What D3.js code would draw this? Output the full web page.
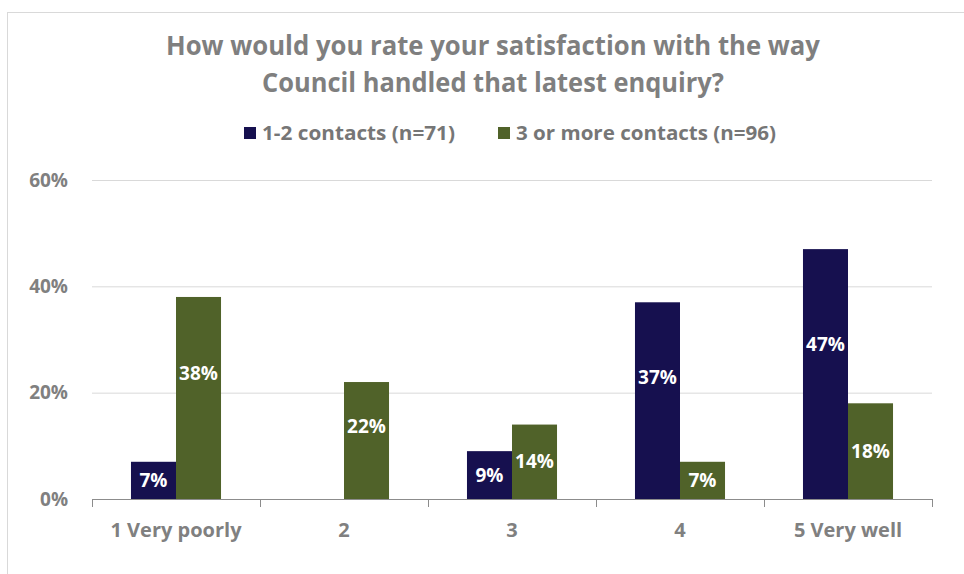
<!DOCTYPE html>
<html>
<head>
<meta charset="utf-8">
<script src="https://cdn.jsdelivr.net/npm/d3@7/dist/d3.min.js"></script>
<style>
  html, body { margin: 0; padding: 0; background: #fff; }
  svg { display: block; font-family: "Open Sans", "Noto Sans", sans-serif; }
</style>
</head>
<body>
<svg id="chart" width="964" height="574"></svg>
<script>
// Ratings and the two respondent groups
const categories = ["1 Very poorly", "2", "3", "4", "5 Very well"];
const seriesNames = ["1-2 contacts (n=71)", "3 or more contacts (n=96)"];
const fewContacts = [7, 0, 9, 37, 47];
const manyContacts = [38, 22, 14, 7, 18];
const yTicks = [0, 20, 40, 60];
const titleLines = ["How would you rate your satisfaction with the way", "Council handled that latest enquiry?"];

const colors = ["#16104f", "#506229"];
const series = [fewContacts, manyContacts];

const svg = d3.select("#chart");
const W = 964, H = 574;
const margin = { left: 92, right: 32, top: 180, bottom: 75 };

// outer frame of the chart area
svg.append("rect")
  .attr("x", 7.5).attr("y", 12.5)
  .attr("width", W + 20).attr("height", H + 20)
  .attr("fill", "none").attr("stroke", "#d9d9d9");

const x = d3.scaleBand()
  .domain(categories)
  .range([margin.left, W - margin.right])
  .paddingInner(0.464)
  .paddingOuter(0.232);

const xs = d3.scaleBand()
  .domain(d3.range(series.length))
  .range([0, x.bandwidth()]);

const y = d3.scaleLinear()
  .domain([0, 60])
  .range([H - margin.bottom, margin.top]);

// gridlines
svg.append("g")
  .selectAll("line")
  .data(yTicks.filter(t => t > 0))
  .join("line")
  .attr("x1", margin.left).attr("x2", W - margin.right)
  .attr("y1", d => y(d) + 0.5).attr("y2", d => y(d) + 0.5)
  .attr("stroke", "#d9d9d9").attr("stroke-width", 1);

// y axis labels
const yAxis = d3.axisLeft(y).tickValues(yTicks).tickFormat(d => d + "%").tickSize(0).tickPadding(0);
const gy = svg.append("g").attr("transform", `translate(${margin.left - 24},0)`).call(yAxis);
gy.select(".domain").remove();
gy.selectAll("text")
  .attr("fill", "#808080")
  .style("font-size", "19px")
  .style("font-weight", "bold")
  .style("font-family", "'Open Sans', sans-serif");

// bars
const groups = svg.append("g")
  .selectAll("g")
  .data(categories)
  .join("g")
  .attr("transform", d => `translate(${x(d)},0)`);

groups.selectAll("rect")
  .data((d, i) => series.map((s, k) => ({ k, v: s[i] })))
  .join("rect")
  .attr("x", d => xs(d.k))
  .attr("width", xs.bandwidth())
  .attr("y", d => y(d.v))
  .attr("height", d => y(0) - y(d.v))
  .attr("fill", d => colors[d.k]);

// value labels inside the bars (zero values are not labelled)
groups.selectAll("text")
  .data((d, i) => series.map((s, k) => ({ k, v: s[i] })).filter(d => d.v > 0))
  .join("text")
  .attr("x", d => xs(d.k) + xs.bandwidth() / 2)
  .attr("y", d => d.v >= 20 ? y(d.v * 0.62) : (y(d.v) + y(0)) / 2)
  .attr("dy", "0.35em")
  .attr("text-anchor", "middle")
  .attr("fill", "#ffffff")
  .style("font-size", "19px")
  .style("font-weight", "bold")
  .text(d => d.v + "%");

// x axis
const xAxis = d3.axisBottom(x).tickSize(0).tickPadding(24);
const gx = svg.append("g").attr("transform", `translate(0,${y(0)})`).call(xAxis);
gx.select(".domain").remove();
gx.selectAll("text")
  .attr("fill", "#808080")
  .style("font-size", "20px")
  .style("font-weight", "bold")
  .style("font-family", "'Open Sans', sans-serif");
svg.append("line")
  .attr("x1", margin.left).attr("x2", W - margin.right)
  .attr("y1", y(0) + 0.5).attr("y2", y(0) + 0.5)
  .attr("stroke", "#8c8c8c");
// category boundary ticks
const bounds = categories.map(c => x(c) - x.step() * x.paddingInner() / 2).concat([W - margin.right]);
svg.append("g").selectAll("line")
  .data(bounds)
  .join("line")
  .attr("x1", d => Math.round(d) + 0.5).attr("x2", d => Math.round(d) + 0.5)
  .attr("y1", y(0)).attr("y2", y(0) + 8)
  .attr("stroke", "#8c8c8c");

// title, two centred lines
const titleWidths = [654, 462];
svg.append("g")
  .selectAll("text")
  .data(titleLines)
  .join("text")
  .attr("x", 493)
  .attr("y", (d, i) => 55 + i * 37)
  .attr("text-anchor", "middle")
  .attr("fill", "#7f7f7f")
  .attr("textLength", (d, i) => titleWidths[i])
  .attr("lengthAdjust", "spacingAndGlyphs")
  .style("font-size", "26.5px")
  .style("font-weight", "bold")
  .text(d => d);

// legend
const legend = svg.append("g").attr("transform", "translate(0,133)");
const legendX = [244, 498];
const legendWidths = [193, 260];
const li = legend.selectAll("g")
  .data(seriesNames)
  .join("g")
  .attr("transform", (d, i) => `translate(${legendX[i]},0)`);
li.append("rect")
  .attr("x", 0).attr("y", -6)
  .attr("width", 12).attr("height", 12)
  .attr("fill", (d, i) => colors[i]);
li.append("text")
  .attr("x", 18).attr("y", 0)
  .attr("dy", "0.35em")
  .attr("fill", "#767676")
  .attr("textLength", (d, i) => legendWidths[i])
  .attr("lengthAdjust", "spacingAndGlyphs")
  .style("font-size", "19.5px")
  .style("font-weight", "bold")
  .text(d => d);
</script>
</body>
</html>
